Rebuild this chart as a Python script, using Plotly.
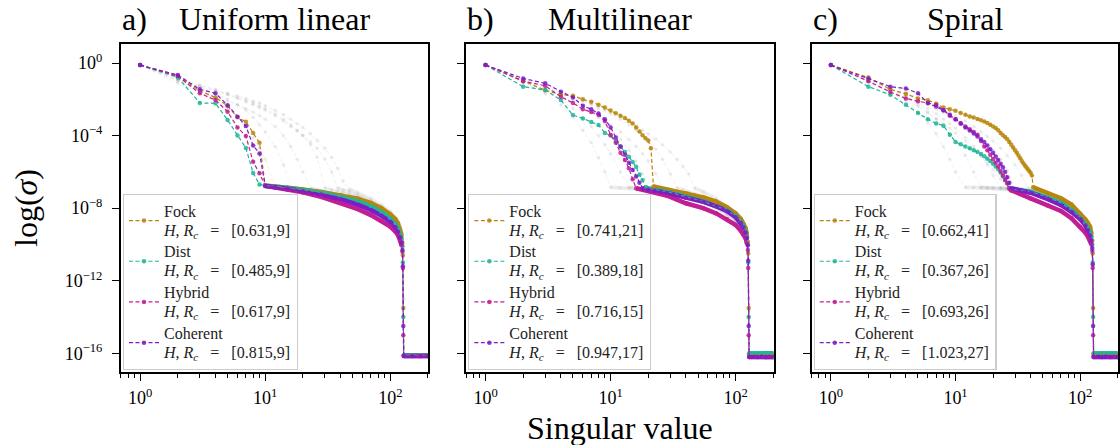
import math
import plotly.graph_objects as go

# ---------------------------------------------------------------------------
# Singular value spectra (log10 of sigma) for three geometries.
# Head arrays: values at singular index 1..len(head) (up to the first point
# after the cut-off rank).  Tail arrays: values at TAIL_X (None where the
# head already covers that index).
# ---------------------------------------------------------------------------
TAIL_X = [12, 15, 20, 28, 40, 55, 70, 85, 100, 110, 115, 120, 123, 125, 126, 127,
          128, 150, 175, 200]

SERIES = ["Fock", "Dist", "Hybrid", "Coherent"]
COLORS = ["#b8860b", "#1fb598", "#c21f93", "#7e1cc6"]

PANEL_TITLES = ["Uniform linear", "Multilinear", "Spiral"]
PANEL_LETTERS = ["a)", "b)", "c)"]

# legend parameters [H, R_c]
a_params = [("0.631", "9"), ("0.485", "9"), ("0.617", "9"), ("0.815", "9")]
b_params = [("0.741", "21"), ("0.389", "18"), ("0.716", "15"), ("0.947", "17")]
c_params = [("0.662", "41"), ("0.367", "26"), ("0.693", "26"), ("1.023", "27")]

# --- a) Uniform linear ------------------------------------------------------
a_fock_head = [-0.11, -0.72, -1.53, -1.9, -2.37, -2.99, -3.23, -3.85, -4.4, -6.75]
a_dist_head = [-0.11, -0.79, -2.2, -2.22, -3.14, -3.99, -4.68, -6.06, -6.7, -6.76]
a_hybrid_head = [-0.11, -0.72, -1.67, -2.04, -2.68, -3.55, -4.02, -5.44, -6.08, -6.77]
a_coherent_head = [-0.11, -0.66, -1.45, -1.67, -2.32, -2.96, -3.47, -4.55, -4.98, -6.78]

a_fock_tail = [-6.8, -6.87, -6.97, -7.1, -7.27, -7.48, -7.72, -8.0, -8.35, -8.62,
               -8.85, -9.2, -9.5, -9.9, -10.6, -13.5, -16.1, -16.1, -16.1, -16.12]
a_dist_tail = [-6.8, -6.88, -6.99, -7.13, -7.35, -7.6, -7.9, -8.2, -8.55, -8.85,
               -9.05, -9.4, -9.7, -10.1, -11.0, -14.0, -16.1, -16.1, -16.1, -16.1]
a_hybrid_tail = [-6.86, -6.97, -7.13, -7.38, -7.7, -8.05, -8.38, -8.7, -9.02, -9.3,
                 -9.48, -9.8, -10.05, -10.4, -11.3, -15.0, -16.15, -16.15, -16.15, -16.15]
a_coherent_tail = [-6.83, -6.92, -7.06, -7.25, -7.5, -7.8, -8.1, -8.42, -8.75, -9.05,
                   -9.3, -9.6, -9.9, -10.3, -11.2, -14.5, -16.15, -16.15, -16.15, -16.15]

# --- b) Multilinear ---------------------------------------------------------
b_fock_head = [-0.11, -1.0, -1.5, -1.74, -1.8, -2.0, -2.13, -2.3, -2.45, -2.62,
               -2.77, -2.9, -3.03, -3.18, -3.33, -3.55, -3.78, -3.98, -4.14, -4.27,
               -4.7, -6.8]
b_dist_head = [-0.11, -1.3, -1.49, -2.04, -2.87, -3.05, -3.25, -3.42, -3.85, -4.0,
               -4.3, -4.6, -4.9, -5.16, -5.45, -5.72, -6.15, -6.45, -6.85]
b_hybrid_head = [-0.11, -1.0, -1.25, -1.86, -2.2, -2.55, -2.7, -2.85, -3.2, -3.97,
                 -4.4, -4.95, -5.35, -5.8, -6.4, -6.9]
b_coherent_head = [-0.11, -0.85, -1.12, -1.58, -1.9, -2.35, -2.55, -2.78, -3.1, -3.55,
                   -4.1, -4.6, -5.05, -5.5, -5.9, -6.25, -6.6, -6.9]

b_fock_tail = [None, None, None, -6.95, -7.18, -7.4, -7.64, -7.95, -8.29, -8.6,
               -8.85, -9.1, -9.45, -9.85, -10.5, -13.5, -16.05, -16.05, -16.05, -16.05]
b_dist_tail = [None, None, -6.92, -7.08, -7.35, -7.62, -7.9, -8.1, -8.42, -8.72,
               -8.95, -9.25, -9.6, -10.0, -11.0, -14.0, -16.0, -16.0, -16.0, -16.0]
b_hybrid_tail = [None, None, -7.05, -7.3, -7.73, -8.0, -8.29, -8.6, -8.93, -9.25,
                 -9.45, -9.66, -9.95, -10.3, -11.3, -15.0, -16.2, -16.2, -16.2, -16.2]
b_coherent_tail = [None, None, -6.98, -7.15, -7.42, -7.65, -7.9, -8.15, -8.5, -8.82,
                   -9.05, -9.35, -9.65, -10.05, -10.9, -14.5, -16.2, -16.2, -16.2, -16.2]

# --- c) Spiral --------------------------------------------------------------
c_fock_head = [-0.11, -0.8, -1.45, -1.7, -1.95, -2.05, -2.25, -2.45, -2.55, -2.63,
               -2.75, -2.85, -2.95, -3.0, -3.08, -3.15, -3.22, -3.3, -3.4, -3.5,
               -3.58, -3.7, -3.85, -3.98, -4.08, -4.2, -4.35, -4.5, -4.65, -4.8,
               -4.95, -5.1, -5.25, -5.4, -5.52, -5.65, -5.75, -5.85, -5.95, -6.05,
               -6.2, -6.85]
c_dist_head = [-0.11, -1.3, -1.75, -2.3, -2.75, -3.1, -3.33, -3.45, -3.95, -4.35,
               -4.48, -4.6, -4.7, -4.8, -4.9, -5.02, -5.14, -5.27, -5.4, -5.55,
               -5.7, -5.85, -6.05, -6.25, -6.45, -6.62, -6.88]
c_hybrid_head = [-0.11, -1.0, -1.6, -1.95, -2.1, -2.2, -2.3, -2.6, -2.9, -3.1,
                 -3.3, -3.5, -3.65, -3.8, -3.95, -4.3, -4.6, -4.8, -5.05, -5.3,
                 -5.5, -5.7, -5.95, -6.2, -6.45, -6.62, -6.92]
c_coherent_head = [-0.11, -0.85, -1.3, -1.4, -1.67, -2.2, -2.4, -2.6, -2.85, -3.1,
                   -3.35, -3.55, -3.72, -3.88, -4.05, -4.2, -4.35, -4.55, -4.75, -4.95,
                   -5.15, -5.35, -5.55, -5.75, -6.0, -6.3, -6.6, -6.9]

c_fock_tail = [None, None, None, None, None, -7.2, -7.45, -7.8, -8.29, -8.62,
               -8.8, -9.02, -9.4, -9.8, -10.5, -13.5, -16.05, -16.05, -16.05, -16.05]
c_dist_tail = [None, None, None, -6.95, -7.09, -7.4, -7.7, -8.1, -8.5, -8.85,
               -9.05, -9.3, -9.6, -10.0, -11.0, -14.0, -16.0, -16.0, -16.0, -16.0]
c_hybrid_tail = [None, None, None, -7.02, -7.46, -7.85, -8.15, -8.55, -9.02, -9.35,
                 -9.55, -9.76, -10.0, -10.35, -11.3, -15.0, -16.2, -16.2, -16.2, -16.2]
c_coherent_tail = [None, None, None, None, -7.15, -7.5, -7.82, -8.2, -8.6, -8.95,
                   -9.2, -9.5, -9.8, -10.2, -11.1, -14.5, -16.2, -16.2, -16.2, -16.2]

# --- background (other runs), values at GRAY_X -------------------------------
GRAY_X = [1, 2, 3, 4, 5, 6, 7, 8, 9, 10,
          12, 14, 16, 18, 20,
          23, 26, 30, 34, 38, 42, 47, 55,
          70, 85, 100, 110, 115, 120, 123, 125, 127,
          128, 160, 200]

a_gray1 = [-0.11, -0.9, -1.3, -1.7, -2.0, -2.3, -2.6, -3.0, -3.4, -3.8,
           -4.6, -5.6, -6.85, -6.9, -6.95,
           -7.0, -7.05, -7.12, -7.2, -7.27, -7.34, -7.42, -7.55,
           -7.8, -8.1, -8.45, -8.75, -8.95, -9.3, -9.6, -10.0, -14.0,
           -16.1, -16.1, -16.1]
a_gray2 = [-0.11, -1.1, -1.6, -1.9, -2.1, -2.3, -2.5, -2.7, -2.9, -3.1,
           -3.5, -4.0, -4.6, -5.3, -6.0,
           -6.9, -6.98, -7.1, -7.2, -7.3, -7.4, -7.5, -7.65,
           -7.95, -8.3, -8.7, -9.0, -9.2, -9.5, -9.8, -10.2, -14.5,
           -16.15, -16.15, -16.15]
a_gray3 = [-0.11, -0.8, -1.2, -1.5, -1.7, -1.9, -2.05, -2.2, -2.35, -2.5,
           -2.8, -3.1, -3.4, -3.7, -4.0,
           -4.5, -5.2, -6.9, -7.0, -7.08, -7.15, -7.25, -7.4,
           -7.7, -8.0, -8.35, -8.65, -8.9, -9.2, -9.5, -9.9, -13.5,
           -16.1, -16.1, -16.1]
a_gray4 = [-0.11, -1.0, -1.3, -1.55, -1.75, -1.95, -2.15, -2.3, -2.45, -2.6,
           -2.9, -3.2, -3.5, -3.75, -4.0,
           -4.35, -4.7, -5.3, -6.0, -6.9, -7.0, -7.1, -7.3,
           -7.6, -7.95, -8.3, -8.6, -8.8, -9.1, -9.4, -9.8, -13.0,
           -16.1, -16.1, -16.1]
a_gray5 = [-0.11, -0.9, -1.25, -1.45, -1.65, -1.8, -1.95, -2.1, -2.2, -2.35,
           -2.6, -2.85, -3.1, -3.35, -3.55,
           -3.9, -4.25, -4.7, -5.2, -5.8, -6.5, -6.95, -7.15,
           -7.5, -7.85, -8.2, -8.5, -8.7, -9.0, -9.35, -9.75, -13.0,
           -16.1, -16.1, -16.1]
a_gray6 = [-0.11, -0.95, -1.5, -2.0, -2.5, -3.0, -3.5, -4.1, -4.7, -5.3,
           -6.8, -6.85, -6.9, -6.95, -7.0,
           -7.05, -7.1, -7.2, -7.3, -7.4, -7.5, -7.62, -7.8,
           -8.1, -8.45, -8.8, -9.1, -9.3, -9.6, -9.9, -10.3, -15.0,
           -16.15, -16.15, -16.15]

b_gray1 = [-0.11, -1.0, -1.7, -2.3, -3.0, -3.7, -4.4, -5.2, -6.0, -6.85,
           -6.88, -6.9, -6.92, -6.95, -6.97,
           -7.0, -7.05, -7.12, -7.2, -7.28, -7.36, -7.45, -7.6,
           -7.9, -8.25, -8.6, -8.9, -9.1, -9.4, -9.7, -10.1, -14.0,
           -16.1, -16.1, -16.1]
b_gray2 = [-0.11, -1.1, -1.6, -2.0, -2.5, -3.0, -3.5, -4.0, -4.5, -5.0,
           -6.0, -6.85, -6.88, -6.9, -6.93,
           -6.97, -7.02, -7.1, -7.18, -7.26, -7.34, -7.44, -7.6,
           -7.92, -8.28, -8.65, -8.95, -9.15, -9.45, -9.75, -10.15, -14.5,
           -16.15, -16.15, -16.15]
b_gray3 = [-0.11, -0.9, -1.4, -1.8, -2.1, -2.4, -2.7, -3.0, -3.3, -3.6,
           -4.2, -4.8, -5.4, -6.1, -6.85,
           -6.92, -6.98, -7.06, -7.15, -7.23, -7.3, -7.4, -7.55,
           -7.85, -8.2, -8.55, -8.85, -9.05, -9.35, -9.65, -10.05, -14.0,
           -16.1, -16.1, -16.1]
b_gray4 = [-0.11, -0.95, -1.35, -1.65, -1.9, -2.1, -2.3, -2.5, -2.65, -2.8,
           -3.1, -3.4, -3.7, -4.0, -4.3,
           -4.75, -5.3, -6.1, -6.9, -7.0, -7.1, -7.2, -7.35,
           -7.65, -8.0, -8.35, -8.65, -8.85, -9.15, -9.45, -9.85, -13.5,
           -16.1, -16.1, -16.1]
b_gray5 = [-0.11, -0.85, -1.3, -1.6, -1.85, -2.05, -2.25, -2.4, -2.55, -2.7,
           -2.95, -3.2, -3.45, -3.7, -3.9,
           -4.2, -4.5, -4.9, -5.3, -5.7, -6.1, -6.9, -7.1,
           -7.5, -7.9, -8.3, -8.6, -8.8, -9.1, -9.4, -9.8, -13.0,
           -16.1, -16.1, -16.1]
b_gray6 = [-0.11, -1.05, -1.5, -1.85, -2.15, -2.45, -2.7, -2.95, -3.2, -3.4,
           -3.8, -4.2, -4.6, -5.0, -5.4,
           -6.1, -6.88, -7.0, -7.1, -7.2, -7.3, -7.42, -7.6,
           -7.95, -8.35, -8.75, -9.05, -9.25, -9.55, -9.85, -10.25, -15.0,
           -16.15, -16.15, -16.15]

c_gray1 = [-0.11, -1.0, -1.6, -2.1, -2.7, -3.3, -3.9, -4.6, -5.3, -6.0,
           -6.85, -6.86, -6.87, -6.88, -6.89,
           -6.9, -6.92, -6.95, -7.0, -7.08, -7.16, -7.26, -7.42,
           -7.75, -8.12, -8.5, -8.82, -9.02, -9.32, -9.62, -10.02, -14.0,
           -16.1, -16.1, -16.1]
c_gray2 = [-0.11, -0.9, -1.4, -1.9, -2.3, -2.7, -3.1, -3.5, -3.9, -4.3,
           -5.1, -6.0, -6.85, -6.87, -6.88,
           -6.9, -6.92, -6.96, -7.02, -7.1, -7.18, -7.3, -7.48,
           -7.82, -8.2, -8.6, -8.92, -9.12, -9.42, -9.72, -10.12, -14.5,
           -16.15, -16.15, -16.15]
c_gray3 = [-0.11, -1.0, -1.5, -1.85, -2.2, -2.5, -2.8, -3.1, -3.35, -3.6,
           -4.1, -4.6, -5.1, -5.6, -6.2,
           -6.88, -6.9, -6.94, -7.0, -7.07, -7.14, -7.24, -7.4,
           -7.72, -8.1, -8.48, -8.8, -9.0, -9.3, -9.6, -10.0, -14.0,
           -16.1, -16.1, -16.1]
c_gray4 = [-0.11, -0.95, -1.4, -1.75, -2.05, -2.3, -2.55, -2.75, -2.95, -3.15,
           -3.5, -3.85, -4.2, -4.5, -4.8,
           -5.3, -5.9, -6.88, -6.95, -7.02, -7.1, -7.2, -7.36,
           -7.68, -8.05, -8.42, -8.75, -8.95, -9.25, -9.55, -9.95, -13.5,
           -16.1, -16.1, -16.1]
c_gray5 = [-0.11, -0.85, -1.3, -1.6, -1.9, -2.15, -2.35, -2.55, -2.75, -2.9,
           -3.2, -3.5, -3.8, -4.05, -4.3,
           -4.7, -5.1, -5.6, -6.2, -6.9, -6.98, -7.08, -7.25,
           -7.6, -7.98, -8.35, -8.68, -8.88, -9.18, -9.48, -9.88, -13.0,
           -16.1, -16.1, -16.1]
c_gray6 = [-0.11, -1.05, -1.55, -2.0, -2.4, -2.75, -3.05, -3.35, -3.6, -3.85,
           -4.3, -4.75, -5.15, -5.5, -5.85,
           -6.4, -6.9, -6.96, -7.04, -7.12, -7.2, -7.32, -7.5,
           -7.88, -8.28, -8.68, -9.0, -9.2, -9.5, -9.8, -10.2, -15.0,
           -16.15, -16.15, -16.15]

PANEL_DATA = [
    dict(heads=[a_fock_head, a_dist_head, a_hybrid_head, a_coherent_head],
         tails=[a_fock_tail, a_dist_tail, a_hybrid_tail, a_coherent_tail],
         grays=[a_gray1, a_gray2, a_gray3, a_gray4, a_gray5, a_gray6],
         params=a_params),
    dict(heads=[b_fock_head, b_dist_head, b_hybrid_head, b_coherent_head],
         tails=[b_fock_tail, b_dist_tail, b_hybrid_tail, b_coherent_tail],
         grays=[b_gray1, b_gray2, b_gray3, b_gray4, b_gray5, b_gray6],
         params=b_params),
    dict(heads=[c_fock_head, c_dist_head, c_hybrid_head, c_coherent_head],
         tails=[c_fock_tail, c_dist_tail, c_hybrid_tail, c_coherent_tail],
         grays=[c_gray1, c_gray2, c_gray3, c_gray4, c_gray5, c_gray6],
         params=c_params),
]

# ---------------------------------------------------------------------------
W, H = 1120, 445
AX_LEFT_PX = [121, 467, 813]
AX_WIDTH_PX = 308
AX_TOP_PX, AX_BOTTOM_PX = 44, 372

SERIF = "Liberation Serif"
DASH = "4px,2.5px"
BAND_MAX_X = 123
FLOOR_MIN_X = 128
NB = "\u00a0"
LEGEND_GLYPH = "font-size:16px"


def px_x(p):
    return min(max(p / W, 0.0), 1.0)


def px_y(p):
    return 1.0 - p / H


def band_points(xs, ys, start_x):
    """Dense tail and floor portions, drawn as a thick band."""
    bx, by = [], []
    gap_added = False
    for x, y in zip(xs, ys):
        if start_x <= x <= BAND_MAX_X:
            bx.append(x)
            by.append(10 ** y)
        elif x >= FLOOR_MIN_X:
            if not gap_added:
                bx.append(None)
                by.append(None)
                gap_added = True
            bx.append(x)
            by.append(10 ** y)
    return bx, by


def legend_label(name, hval, rc):
    line1 = f'<span style="{LEGEND_GLYPH}">{name}</span>'
    line2 = (f'<span style="{LEGEND_GLYPH}"><i>H</i>,{NB}<i>R<sub>c</sub></i>'
             f'{NB*3}={NB*3}[{hval},{rc}]</span>')
    return line1 + "<br>" + line2


fig = go.Figure()
sup = {0: "0", -4: "\u22124", -8: "\u22128", -12: "\u221212", -16: "\u221216"}

for p, data in enumerate(PANEL_DATA):
    ax_suffix = "" if p == 0 else str(p + 1)
    xref, yref = "x" + ax_suffix, "y" + ax_suffix
    legend_id = "legend" + ax_suffix

    # background runs
    for g in data["grays"]:
        fig.add_trace(go.Scatter(
            x=GRAY_X, y=[10 ** v for v in g], xaxis=xref, yaxis=yref,
            mode="lines+markers", showlegend=False, hoverinfo="skip",
            line=dict(color="rgba(160,160,160,0.16)", width=1, dash=DASH),
            marker=dict(size=3.5, color="rgba(160,160,160,0.2)")))
        knee = next(x for x, v in zip(GRAY_X, g) if v <= -6.8)
        bx, by = band_points(GRAY_X, g, knee)
        fig.add_trace(go.Scatter(
            x=bx, y=by, xaxis=xref, yaxis=yref, mode="lines",
            showlegend=False, hoverinfo="skip",
            line=dict(color="rgba(190,190,190,0.25)", width=4)))

    # curves of each encoding
    curves = []
    for head, tail in zip(data["heads"], data["tails"]):
        xs = list(range(1, len(head) + 1))
        ys = list(head)
        for x, v in zip(TAIL_X, tail):
            if v is not None:
                xs.append(x)
                ys.append(v)
        curves.append((xs, ys, len(head)))

    for (xs, ys, knee), color in zip(curves, COLORS):
        bx, by = band_points(xs, ys, knee)
        fig.add_trace(go.Scatter(
            x=bx, y=by, xaxis=xref, yaxis=yref, mode="lines",
            showlegend=False, hoverinfo="skip",
            line=dict(color=color, width=4.5)))

    for (xs, ys, knee), color, name, (hval, rc) in zip(curves, COLORS, SERIES, data["params"]):
        fig.add_trace(go.Scatter(
            x=xs, y=[10 ** v for v in ys], xaxis=xref, yaxis=yref,
            mode="lines+markers", name=legend_label(name, hval, rc), legend=legend_id,
            line=dict(color=color, width=1.2, dash=DASH),
            marker=dict(size=4.5, color=color, opacity=0.85)))

    x0 = AX_LEFT_PX[p]
    x1 = x0 + AX_WIDTH_PX
    axis_common = dict(showline=True, linecolor="black", linewidth=1.6, mirror=True,
                       showgrid=False, zeroline=False, ticks="outside",
                       tickcolor="black", tickwidth=1.3, ticklen=7,
                       tickfont=dict(family=SERIF, size=18, color="black"))
    fig.update_layout(**{
        "xaxis" + ax_suffix: dict(
            axis_common, type="log", domain=[px_x(x0), px_x(x1)],
            range=[math.log10(0.7), math.log10(201)], anchor=yref,
            tickmode="array", tickvals=[1, 10, 100], ticklabelstandoff=2,
            ticktext=["10<sup>0</sup>", "10<sup>1</sup>", "10<sup>2</sup>"],
            minor=dict(tickmode="array",
                       tickvals=[0.7, 0.8, 0.9, 2, 3, 4, 5, 6, 7, 8, 9,
                                 20, 30, 40, 50, 60, 70, 80, 90, 200],
                       ticks="outside", ticklen=4, tickwidth=1, tickcolor="black",
                       showgrid=False)),
        "yaxis" + ax_suffix: dict(
            axis_common, type="log", domain=[px_y(AX_BOTTOM_PX), px_y(AX_TOP_PX)],
            range=[-17.03, 1.05], anchor=xref, ticklabelstandoff=6,
            tickmode="array", tickvals=[10.0 ** k for k in sup],
            ticktext=[f"10<sup>{s}</sup>" for s in sup.values()],
            showticklabels=(p == 0)),
        legend_id: dict(
            x=px_x(x0 + 2), y=px_y(AX_BOTTOM_PX - 2), xanchor="left", yanchor="bottom",
            bgcolor="rgba(255,255,255,0.8)", bordercolor="#cccccc", borderwidth=1.2,
            font=dict(family=SERIF, size=14.5, color="#222222"),
            itemwidth=30, tracegroupgap=0),
    })

    # panel titles
    fig.add_annotation(text=PANEL_LETTERS[p], xref="paper", yref="paper",
                       x=px_x(x0 - 1), y=px_y(19), xanchor="left", yanchor="middle",
                       showarrow=False, font=dict(family=SERIF, size=32, color="black"))
    fig.add_annotation(text=PANEL_TITLES[p], xref="paper", yref="paper",
                       x=px_x((x0 + x1) / 2), y=px_y(19), xanchor="center",
                       yanchor="middle", showarrow=False,
                       font=dict(family=SERIF, size=32, color="black"))

fig.add_annotation(text="Singular value", xref="paper", yref="paper",
                   x=px_x(621), y=px_y(428), xanchor="center", yanchor="middle",
                   showarrow=False, font=dict(family=SERIF, size=32, color="black"))
fig.add_annotation(text="log(<i>\u03c3</i>)", xref="paper", yref="paper",
                   x=px_x(26), y=px_y(208), xanchor="center", yanchor="middle",
                   textangle=-90, showarrow=False,
                   font=dict(family=SERIF, size=32, color="black"))

fig.update_layout(width=W, height=H, margin=dict(l=0, r=0, t=0, b=0),
                  paper_bgcolor="white", plot_bgcolor="white", showlegend=True)

fig.write_html("out.html")
